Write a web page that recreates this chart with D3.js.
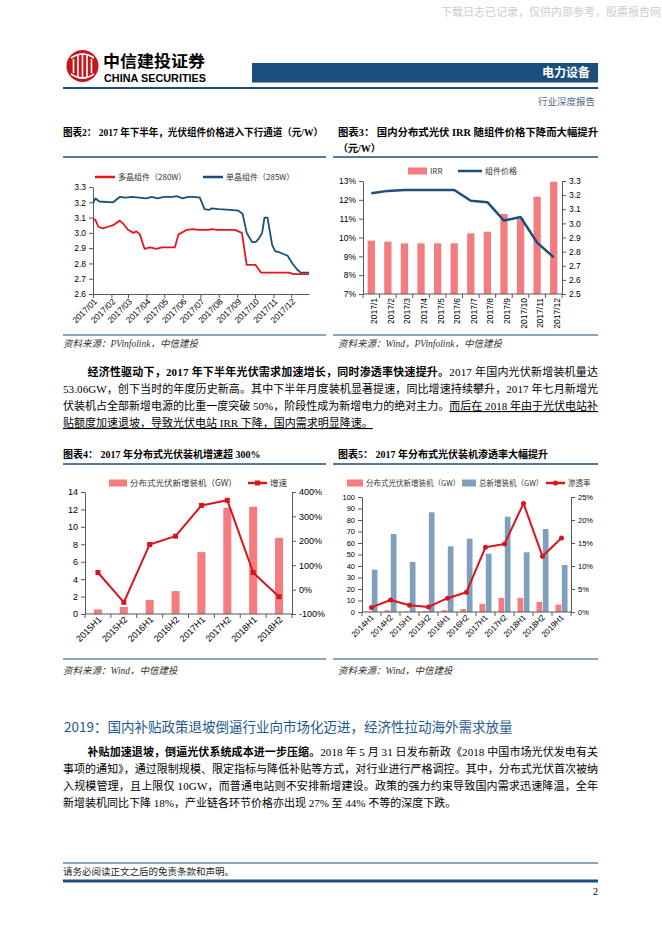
<!DOCTYPE html>
<html>
<head>
<meta charset="utf-8">
<script src="https://cdn.jsdelivr.net/npm/d3@7/dist/d3.min.js"></script>
<style>
body { margin: 0; background: #fff; }
</style>
</head>
<body>
<div id="page"></div>
<script>
// ---- data read from the report page ----
// chart 2: module price (yuan/W), 2017
var polyDates = ["2017-01-01","2017-01-05","2017-01-10","2017-01-18","2017-01-26","2017-02-04","2017-02-11","2017-02-15","2017-02-21","2017-03-01","2017-03-10","2017-03-15","2017-03-21","2017-03-29","2017-04-07","2017-04-18","2017-04-27","2017-05-19","2017-05-25","2017-05-30","2017-06-08","2017-06-19","2017-06-28","2017-07-15","2017-07-20","2017-07-29","2017-08-28","2017-09-09","2017-09-17","2017-10-02","2017-10-11","2017-11-27","2017-12-05","2017-12-31"];
var polyPrices = [3.09,3.085,3.04,3.03,3.04,3.05,3.07,3.08,3.06,3.02,3.0,3.01,2.99,2.895,2.905,2.895,2.905,2.905,2.99,3.0,3.02,3.025,3.02,3.02,3.025,3.02,3.02,3.0,2.79,2.79,2.74,2.74,2.73,2.73];
var monoDates = ["2017-01-01","2017-01-05","2017-01-12","2017-02-04","2017-02-15","2017-02-25","2017-03-08","2017-03-20","2017-04-01","2017-04-10","2017-04-20","2017-05-01","2017-05-15","2017-05-22","2017-06-01","2017-06-10","2017-06-20","2017-06-30","2017-07-08","2017-07-15","2017-07-20","2017-08-01","2017-08-20","2017-09-03","2017-09-10","2017-09-17","2017-09-26","2017-10-02","2017-10-07","2017-10-13","2017-10-17","2017-10-22","2017-10-30","2017-11-04","2017-11-13","2017-11-25","2017-12-03","2017-12-11","2017-12-17","2017-12-31"];
var monoPrices = [3.195,3.225,3.205,3.20,3.235,3.23,3.235,3.23,3.225,3.235,3.225,3.235,3.235,3.24,3.225,3.235,3.235,3.23,3.155,3.15,3.16,3.155,3.15,3.145,3.125,3.0,2.94,2.94,2.96,3.0,3.1,3.1,2.92,2.88,2.87,2.85,2.80,2.76,2.74,2.74];
var ticks2 = [2.6,2.7,2.8,2.9,3.0,3.1,3.2,3.3];

// chart 3: IRR vs module price
var months3 = ["2017/1","2017/2","2017/3","2017/4","2017/5","2017/6","2017/7","2017/8","2017/9","2017/10","2017/11","2017/12"];
var irr3 = [9.83,9.78,9.69,9.69,9.69,9.69,10.22,10.31,11.25,11.0,12.17,12.96];
var price3 = [3.213,3.23,3.236,3.236,3.236,3.236,3.16,3.15,3.02,3.045,2.864,2.76];
var ticks3L = [7,8,9,10,11,12,13];
var ticks3R = [2.5,2.6,2.7,2.8,2.9,3.0,3.1,3.2,3.3];

// chart 4: distributed PV additions and growth
var halves4 = ["2015H1","2015H2","2016H1","2016H2","2017H1","2017H2","2018H1","2018H2"];
var distAdd4 = [0.53,0.8,1.6,2.63,7.1,12.2,12.3,8.74];
var growth4 = [70,-52,185,219,345,366,70,-29];
var ticks4L = [0,2,4,6,8,10,12,14];
var ticks4R = [-100,0,100,200,300,400];

// chart 5: distributed vs total additions, penetration
var halves5 = ["2014H1","2014H2","2015H1","2015H2","2016H1","2016H2","2017H1","2017H2","2018H1","2018H2","2019H1"];
var distAdd5 = [0.3,1.4,0.5,0.8,1.5,2.6,7.1,12.2,12.3,8.7,6.4];
var totalAdd5 = [36.8,67.8,43.5,86.7,57.1,63.8,50.7,82.9,51.9,72.2,40.9];
var penetration5 = [1.0,2.6,1.45,1.1,3.0,4.3,14.1,14.8,23.6,12.1,16.1];
var ticks5L = [0,10,20,30,40,50,60,70,80,90,100];
var ticks5R = [0,5,10,15,20,25];

// ---- page ----
var W = 662, H = 936;
var SERIF = "'Liberation Serif','Noto Sans CJK SC',serif";
var SANS = "'Liberation Sans','Noto Sans CJK SC',sans-serif";
var CJK = "'Noto Sans CJK SC',sans-serif";
var NAVY = "#1b4e7b";
var PINK = "#f47c7e";
var RED = "#d9141c";
var STEEL = "#7f9fbd";

var svg = d3.select("#page").append("svg")
	.attr("width", W)
	.attr("height", H);

function txt(x, y, s, size, opts) {
	opts = opts || {};
	var t = svg.append("text")
		.attr("x", x).attr("y", y)
		.attr("font-size", size)
		.attr("font-family", opts.family || SERIF)
		.attr("fill", opts.fill || "#000")
		.text(s);
	if (opts.bold) t.attr("font-weight", "bold");
	if (opts.italic) t.attr("font-style", "italic");
	if (opts.anchor) t.attr("text-anchor", opts.anchor);
	if (opts.len) t.attr("textLength", opts.len).attr("lengthAdjust", "spacingAndGlyphs");
	return t;
}
function hline(x1, x2, y, w, c) {
	svg.append("line").attr("x1", x1).attr("x2", x2).attr("y1", y).attr("y2", y)
		.attr("stroke", c || NAVY).attr("stroke-width", w);
}

// header
txt(441, 16, "下载日志已记录，仅供内部参考，股票报告网", 11, { family: CJK, fill: "#cdcdcd" });
svg.append("circle").attr("cx", 82.5).attr("cy", 66).attr("r", 16).attr("fill", "#c4161c");
// rough CITIC mark
[[-9, 0.55], [-4.5, 0.85], [0, 1], [4.5, 0.85], [9, 0.55]].forEach(function (p) {
	svg.append("line")
		.attr("x1", 82.5 + p[0]).attr("x2", 82.5 + p[0])
		.attr("y1", 66 - 13 * p[1]).attr("y2", 66 + 13 * p[1])
		.attr("stroke", "#fff").attr("stroke-width", 1.6);
});
svg.append("path").attr("d", "M71,58 Q82.5,50 94,58 M71,74 Q82.5,82 94,74")
	.attr("fill", "none").attr("stroke", "#fff").attr("stroke-width", 1.6);
txt(103, 67, "中信建投证券", 16, { family: CJK, bold: true, len: 102 });
txt(104, 81.5, "CHINA SECURITIES", 10, { family: SANS, bold: true, len: 102 });
svg.append("rect").attr("x", 252).attr("y", 63).attr("width", 346).attr("height", 19.5).attr("fill", NAVY);
txt(590, 77, "电力设备", 12, { family: CJK, bold: true, fill: "#fff", anchor: "end" });
hline(63, 598, 88, 2);
txt(595, 105, "行业深度报告", 9.5, { family: CJK, fill: "#4a6a8a", anchor: "end" });

// chart titles and sources
txt(63, 135.5, "图表2：  2017 年下半年，光伏组件价格进入下行通道（元/W）", 10, { bold: true, len: 260 });
txt(338, 135.5, "图表3：  国内分布式光伏  IRR  随组件价格下降而大幅提升", 10, { bold: true, len: 260 });
txt(338, 151.5, "（元/W）", 10, { bold: true });
hline(63, 326, 157, 1.5);
hline(333, 598, 157, 1.5);
hline(63, 326, 335, 1);
hline(333, 598, 335, 1);
txt(63, 346.5, "资料来源：PVinfolink，中信建投", 9.5, { italic: true, fill: "#333" });
txt(338, 346.5, "资料来源：Wind，PVinfolink，中信建投", 9.5, { italic: true, fill: "#333" });

txt(63, 457.5, "图表4：  2017 年分布式光伏装机增速超 300%", 10, { bold: true });
txt(338, 457.5, "图表5：  2017 年分布式光伏装机渗透率大幅提升", 10, { bold: true });
hline(63, 326, 464, 1.5);
hline(333, 598, 464, 1.5);
hline(63, 326, 659, 1);
hline(333, 598, 659, 1);
txt(63, 673.5, "资料来源：Wind，中信建投", 9.5, { italic: true, fill: "#333" });
txt(338, 673.5, "资料来源：Wind，中信建投", 9.5, { italic: true, fill: "#333" });

// paragraphs
function para(lines, y0) {
	lines.forEach(function (ln, i) {
		var x = ln.indent ? 87.5 : 63;
		var t = svg.append("text")
			.attr("x", x).attr("y", y0 + i * 17)
			.attr("font-size", 11).attr("font-family", SERIF);
		if (ln.full) t.attr("textLength", 598 - x).attr("lengthAdjust", "spacing");
		ln.parts.forEach(function (p) {
			var s = t.append("tspan").text(p[1]);
			if (p[0].indexOf("b") >= 0) s.attr("font-weight", "bold");
			if (p[0].indexOf("u") >= 0) s.attr("text-decoration", "underline");
		});
	});
}
para([
	{ indent: true, full: true, parts: [["b", "经济性驱动下，2017 年下半年光伏需求加速增长，同时渗透率快速提升。"], ["", "2017 年国内光伏新增装机量达"]] },
	{ full: true, parts: [["", "53.06GW，创下当时的年度历史新高。其中下半年月度装机显著提速，同比增速持续攀升，2017 年七月新增光"]] },
	{ full: true, parts: [["", "伏装机占全部新增电源的比重一度突破 50%，阶段性成为新增电力的绝对主力。"], ["u", "而后在 2018 年由于光伏电站补"]] },
	{ parts: [["u", "贴额度加速退坡，导致光伏电站 IRR 下降，国内需求明显降速。"]] }
], 376);

txt(64, 732, "2019：国内补贴政策退坡倒逼行业向市场化迈进，经济性拉动海外需求放量", 13.5, { family: CJK, fill: "#1f5a8c" });

para([
	{ indent: true, full: true, parts: [["b", "补贴加速退坡，倒逼光伏系统成本进一步压缩。"], ["", "2018 年 5 月 31 日发布新政《2018 中国市场光伏发电有关"]] },
	{ full: true, parts: [["", "事项的通知》，通过限制规模、限定指标与降低补贴等方式，对行业进行严格调控。其中，分布式光伏首次被纳"]] },
	{ full: true, parts: [["", "入规模管理，且上限仅  10GW，而普通电站则不安排新增建设。政策的强力约束导致国内需求迅速降温，全年"]] },
	{ parts: [["", "新增装机同比下降 18%，产业链各环节价格亦出现 27% 至 44% 不等的深度下跌。"]] }
], 756);

// footer
hline(63, 598, 863, 1);
txt(63, 874.5, "请务必阅读正文之后的免责条款和声明。", 9.5, { fill: "#222" });
hline(63, 598, 881, 3);
txt(598, 895, "2", 10, { anchor: "end" });

// ---- shared chart helpers ----
function styleAxis(g, size) {
	g.attr("font-family", SANS).attr("font-size", size);
	g.selectAll(".domain, .tick line").attr("stroke", "#595959");
	g.selectAll(".tick text").attr("fill", "#000");
	return g;
}
function bandAxis(x, y, size, labelFn) {
	var g = svg.append("g");
	var r = x.range();
	g.append("line").attr("x1", r[0]).attr("x2", r[1]).attr("y1", y).attr("y2", y)
		.attr("stroke", "#595959");
	var bounds = x.domain().map(function (d) { return x(d) - x.step() * x.paddingInner() / 2; });
	bounds.push(r[1]);
	g.selectAll("line.tk").data(bounds).join("line").attr("class", "tk")
		.attr("x1", function (d) { return d; }).attr("x2", function (d) { return d; })
		.attr("y1", y).attr("y2", y + 4).attr("stroke", "#595959");
	g.selectAll("text").data(x.domain()).join("text")
		.attr("font-family", SANS).attr("font-size", size)
		.attr("text-anchor", "end")
		.attr("transform", labelFn)
		.attr("dy", "0.35em")
		.text(function (d) { return d; });
	return g;
}
function legendRect(x, y, w, c, label, size) {
	svg.append("rect").attr("x", x).attr("y", y - 3.5).attr("width", w).attr("height", 7).attr("fill", c);
	txt(x + w + 3, y + 3, label, size, { family: CJK, fill: "#333" });
}
function legendLine(x, y, w, c, label, size, marker) {
	svg.append("line").attr("x1", x).attr("x2", x + w).attr("y1", y).attr("y2", y)
		.attr("stroke", c).attr("stroke-width", 2.5);
	if (marker === "square") svg.append("rect").attr("x", x + w / 2 - 2.5).attr("y", y - 2.5).attr("width", 5).attr("height", 5).attr("fill", c);
	if (marker === "circle") svg.append("circle").attr("cx", x + w / 2).attr("cy", y).attr("r", 2.5).attr("fill", c);
	txt(x + w + 3, y + 3, label, size, { family: CJK, fill: "#333" });
}

// ---- chart 2 ----
var parse = d3.timeParse("%Y-%m-%d");
var x2 = d3.scaleTime().domain([parse("2017-01-01"), parse("2017-12-31")]).range([93, 309]);
var y2 = d3.scaleLinear().domain([2.6, 3.3]).range([294, 187]);

styleAxis(svg.append("g").attr("transform", "translate(93,0)")
	.call(d3.axisLeft(y2).tickValues(ticks2).tickFormat(d3.format(".1f")).tickSize(4).tickSizeOuter(0)), 8.5);
var ax2 = styleAxis(svg.append("g").attr("transform", "translate(0,294)")
	.call(d3.axisBottom(x2).ticks(d3.timeMonth.every(1)).tickFormat(d3.timeFormat("%Y/%m")).tickSize(4).tickSizeOuter(0)), 8.5);
ax2.selectAll(".tick text")
	.attr("x", 0).attr("y", 0).attr("dy", "0.35em")
	.attr("text-anchor", "end")
	.attr("transform", "translate(2,6) rotate(-45)");

var line2 = d3.line()
	.x(function (d) { return x2(d.date); })
	.y(function (d) { return y2(d.v); });
var polySeries = polyDates.map(function (d, i) { return { date: parse(d), v: polyPrices[i] }; });
var monoSeries = monoDates.map(function (d, i) { return { date: parse(d), v: monoPrices[i] }; });
svg.append("path").datum(monoSeries).attr("d", line2)
	.attr("fill", "none").attr("stroke", "#1d4f7c").attr("stroke-width", 1.8).attr("stroke-linejoin", "round");
svg.append("path").datum(polySeries).attr("d", line2)
	.attr("fill", "none").attr("stroke", "#e8141c").attr("stroke-width", 1.8).attr("stroke-linejoin", "round");

legendLine(95, 177, 20, "#e8141c", "多晶组件（280W）", 8);
legendLine(203, 177, 20, "#1d4f7c", "单晶组件（285W）", 8);

// ---- chart 3 ----
var x3 = d3.scaleBand().domain(months3).range([363, 562]).paddingInner(0.56).paddingOuter(0.28);
var y3L = d3.scaleLinear().domain([7, 13]).range([294, 181]);
var y3R = d3.scaleLinear().domain([2.5, 3.3]).range([294, 181]);

svg.append("g").selectAll("rect").data(months3).join("rect")
	.attr("x", function (d) { return x3(d); })
	.attr("width", x3.bandwidth())
	.attr("y", function (d, i) { return y3L(irr3[i]); })
	.attr("height", function (d, i) { return y3L(7) - y3L(irr3[i]); })
	.attr("fill", PINK);
styleAxis(svg.append("g").attr("transform", "translate(363,0)")
	.call(d3.axisLeft(y3L).tickValues(ticks3L).tickFormat(function (d) { return d + "%"; }).tickSize(4).tickSizeOuter(0)), 8.5);
styleAxis(svg.append("g").attr("transform", "translate(562,0)")
	.call(d3.axisRight(y3R).tickValues(ticks3R).tickFormat(d3.format(".1f")).tickSize(4).tickSizeOuter(0)), 8.5);
bandAxis(x3, 294, 8.5, function (d) {
	return "translate(" + (x3(d) + x3.bandwidth() / 2 + 3) + ",298) rotate(-90)";
});
svg.append("path").datum(price3)
	.attr("d", d3.line()
		.x(function (d, i) { return x3(months3[i]) + x3.bandwidth() / 2; })
		.y(function (d) { return y3R(d); }))
	.attr("fill", "none").attr("stroke", "#1d4f7c").attr("stroke-width", 2.5).attr("stroke-linejoin", "round");

legendRect(408, 171, 19, PINK, "IRR", 8);
legendLine(458, 171, 24, "#1d4f7c", "组件价格", 8);

// ---- chart 4 ----
var x4 = d3.scaleBand().domain(halves4).range([85, 292]).paddingInner(0.69).paddingOuter(0.345);
var y4L = d3.scaleLinear().domain([0, 14]).range([614, 492]);
var y4R = d3.scaleLinear().domain([-100, 400]).range([614, 492]);

svg.append("g").selectAll("rect").data(halves4).join("rect")
	.attr("x", function (d) { return x4(d); })
	.attr("width", x4.bandwidth())
	.attr("y", function (d, i) { return y4L(distAdd4[i]); })
	.attr("height", function (d, i) { return y4L(0) - y4L(distAdd4[i]); })
	.attr("fill", PINK);
styleAxis(svg.append("g").attr("transform", "translate(85,0)")
	.call(d3.axisLeft(y4L).tickValues(ticks4L).tickSize(4).tickSizeOuter(0)), 9);
styleAxis(svg.append("g").attr("transform", "translate(292,0)")
	.call(d3.axisRight(y4R).tickValues(ticks4R).tickFormat(function (d) { return d + "%"; }).tickSize(4).tickSizeOuter(0)), 9);
bandAxis(x4, 614, 9, function (d) {
	return "translate(" + (x4(d) + x4.bandwidth() / 2 + 2) + ",618) rotate(-45)";
});
var cx4 = function (d, i) { return x4(halves4[i]) + x4.bandwidth() / 2; };
svg.append("path").datum(growth4)
	.attr("d", d3.line().x(cx4).y(function (d) { return y4R(d); }))
	.attr("fill", "none").attr("stroke", RED).attr("stroke-width", 2).attr("stroke-linejoin", "round");
svg.append("g").selectAll("rect").data(growth4).join("rect")
	.attr("x", function (d, i) { return cx4(d, i) - 2.5; })
	.attr("y", function (d) { return y4R(d) - 2.5; })
	.attr("width", 5).attr("height", 5).attr("fill", RED);

legendRect(109, 483, 18, PINK, "分布式光伏新增装机（GW）", 8.5);
legendLine(248, 483, 19, RED, "增速", 8.5, "square");

// ---- chart 5 ----
var x5 = d3.scaleBand().domain(halves5).range([362, 571]).paddingInner(0.3).paddingOuter(0.15);
var x5in = d3.scaleBand().domain(["dist", "total"]).range([0, x5.bandwidth()]).padding(0.1);
var y5L = d3.scaleLinear().domain([0, 100]).range([612, 497]);
var y5R = d3.scaleLinear().domain([0, 25]).range([612, 497]);

var g5 = svg.append("g");
g5.selectAll("rect.d").data(halves5).join("rect").attr("class", "d")
	.attr("x", function (d) { return x5(d) + x5in("dist"); })
	.attr("width", x5in.bandwidth())
	.attr("y", function (d, i) { return y5L(distAdd5[i]); })
	.attr("height", function (d, i) { return y5L(0) - y5L(distAdd5[i]); })
	.attr("fill", PINK);
g5.selectAll("rect.t").data(halves5).join("rect").attr("class", "t")
	.attr("x", function (d) { return x5(d) + x5in("total"); })
	.attr("width", x5in.bandwidth())
	.attr("y", function (d, i) { return y5L(totalAdd5[i]); })
	.attr("height", function (d, i) { return y5L(0) - y5L(totalAdd5[i]); })
	.attr("fill", STEEL);
styleAxis(svg.append("g").attr("transform", "translate(362,0)")
	.call(d3.axisLeft(y5L).tickValues(ticks5L).tickSize(4).tickSizeOuter(0)), 7.5);
styleAxis(svg.append("g").attr("transform", "translate(571,0)")
	.call(d3.axisRight(y5R).tickValues(ticks5R).tickFormat(function (d) { return d + "%"; }).tickSize(4).tickSizeOuter(0)), 7.5);
bandAxis(x5, 612, 8, function (d) {
	return "translate(" + (x5(d) + x5.bandwidth() / 2 + 1) + ",616) rotate(-45)";
});
var cx5 = function (d, i) { return x5(halves5[i]) + x5.bandwidth() / 2; };
svg.append("path").datum(penetration5)
	.attr("d", d3.line().x(cx5).y(function (d) { return y5R(d); }))
	.attr("fill", "none").attr("stroke", RED).attr("stroke-width", 2).attr("stroke-linejoin", "round");
svg.append("g").selectAll("circle").data(penetration5).join("circle")
	.attr("cx", cx5)
	.attr("cy", function (d) { return y5R(d); })
	.attr("r", 2.5).attr("fill", RED);

legendRect(347, 483, 16, PINK, "分布式光伏新增装机（GW）", 7.5);
legendRect(462, 483, 14, STEEL, "总新增装机（GW）", 7.5);
legendLine(546, 483, 19, RED, "渗透率", 7.5, "circle");
</script>
</body>
</html>
